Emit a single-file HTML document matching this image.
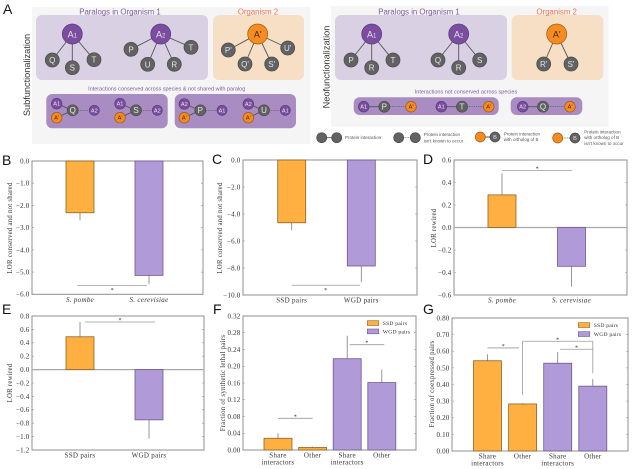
<!DOCTYPE html>
<html lang="en">
<head>
<meta charset="utf-8">
<title>Paralog interaction figure</title>
<style>
html,body{margin:0;padding:0;background:#fff;width:632px;height:469px;overflow:hidden}
svg{display:block;filter:blur(.3px)}
text{font-family:"Liberation Sans",sans-serif}
.ser{font-family:"Liberation Serif",serif}
.edge{stroke:#555;stroke-width:.9;fill:none}
.dash{stroke:#555;stroke-width:.7;stroke-dasharray:1.2 1;fill:none}
.g circle{fill:#626262;stroke:#4a4a4a;stroke-width:.7}
.p circle{fill:#7b4da1;stroke:#5c3a7d;stroke-width:.7}
.o circle{fill:#f68b1f;stroke:#9a5a16;stroke-width:.7}
.node text{text-anchor:middle;fill:#e6e6e6}
.o text{fill:#3a2a10}
.big text{font-size:9px}
.mid text{font-size:8px}
.sm text{font-size:5.6px}
.cap{font-size:5.5px;text-anchor:middle;fill:#7d5ba0}
.title1{font-size:7.8px;text-anchor:middle;fill:#7d5ba0}
.title2{font-size:7.8px;text-anchor:middle;fill:#ef7350}
.leg{font-size:4.5px;fill:#555}
.letter{font-size:14px;fill:#111}
.side{font-size:9.2px;text-anchor:middle;fill:#333}
</style>
</head>
<body>
<svg id="fig" xmlns="http://www.w3.org/2000/svg" width="632" height="469" viewBox="0 0 632 469">
<rect width="632" height="469" fill="#fff"/>

<g>
<text class="letter" x="3" y="14">A</text>
<rect x="32" y="7" width="278" height="137" fill="#f5f5f5"/>
<rect x="36" y="15" width="172" height="65" rx="6" fill="#d9d0e4"/>
<rect x="213" y="15" width="91" height="65" rx="6" fill="#f7dfc5"/>
<text class="title1" x="120" y="14.5">Paralogs in Organism 1</text>
<text class="title2" x="258" y="14.5">Organism 2</text>
<text class="side" transform="translate(30,75) rotate(-90)">Subfunctionalization</text>

<path class="edge" d="M72.3 34L52.3 60M72.3 34V67.7M72.3 34L94 59.7M160.7 34L131 49.3M160.7 34L147.7 64.3M160.7 34L174.3 64.3M160.7 34L191 47.3M257.7 34L228.3 50M257.7 34L245 64M257.7 34L271.7 64M257.7 34L287.7 48"/>
<g class="node p big"><circle cx="72.3" cy="34" r="10"/><text x="72.3" y="37.5">A<tspan font-size="6">1</tspan></text></g>
<g class="node g mid"><circle cx="52.3" cy="60" r="7"/><text x="52.3" y="63">Q</text></g>
<g class="node g mid"><circle cx="72.3" cy="67.7" r="7"/><text x="72.3" y="70.7">S</text></g>
<g class="node g mid"><circle cx="94" cy="59.7" r="7"/><text x="94" y="62.7">T</text></g>
<g class="node p big"><circle cx="160.7" cy="34" r="10"/><text x="160.7" y="37.5">A<tspan font-size="6">2</tspan></text></g>
<g class="node g mid"><circle cx="131" cy="49.3" r="7"/><text x="131" y="52.3">P</text></g>
<g class="node g mid"><circle cx="147.7" cy="64.3" r="7"/><text x="147.7" y="67.3">U</text></g>
<g class="node g mid"><circle cx="174.3" cy="64.3" r="7"/><text x="174.3" y="67.3">R</text></g>
<g class="node g mid"><circle cx="191" cy="47.3" r="7"/><text x="191" y="50.3">T</text></g>
<g class="node o big"><circle cx="257.7" cy="34" r="10"/><text x="257.7" y="37.5">A'</text></g>
<g class="node g mid"><circle cx="228.3" cy="50" r="7"/><text x="228.3" y="53">P'</text></g>
<g class="node g mid"><circle cx="245" cy="64" r="7"/><text x="245" y="67">Q'</text></g>
<g class="node g mid"><circle cx="271.7" cy="64" r="7"/><text x="271.7" y="67">S'</text></g>
<g class="node g mid"><circle cx="287.7" cy="48" r="7"/><text x="287.7" y="51">U'</text></g>

<text class="cap" x="166.7" y="90.5">Interactions conserved across species &amp; not shared with paralog</text>
<rect x="46.3" y="94" width="121.4" height="34.3" rx="6" fill="#a98dc2"/>
<rect x="174.7" y="94" width="121.3" height="34.3" rx="6" fill="#a98dc2"/>
<path class="edge" d="M56.7 103.7L72.7 110.3L56.7 117.7M120 103.7L136 110.3L120 117.7M184.3 104L200.3 110.3L184.3 117.7M248.3 104L264 110.3L248.3 117.7"/>
<path class="dash" d="M78 110.3H89M141 110.3H152M206 110.3H217M269 110.3H280"/>
<g class="node p sm"><circle cx="56.7" cy="103.7" r="5.3"/><text x="56.7" y="105.7">A1</text></g>
<g class="node o sm"><circle cx="56.7" cy="117.7" r="5.3"/><text x="56.7" y="119.7">A'</text></g>
<g class="node g mid"><circle cx="72.7" cy="110.3" r="5.5"/><text x="72.7" y="113">Q</text></g>
<g class="node p sm"><circle cx="94.3" cy="110.3" r="5"/><text x="94.3" y="112.3">A2</text></g>
<g class="node p sm"><circle cx="120" cy="103.7" r="5.3"/><text x="120" y="105.7">A1</text></g>
<g class="node o sm"><circle cx="120" cy="117.7" r="5.3"/><text x="120" y="119.7">A'</text></g>
<g class="node g mid"><circle cx="136" cy="110.3" r="5.5"/><text x="136" y="113">S</text></g>
<g class="node p sm"><circle cx="157.3" cy="110.3" r="5"/><text x="157.3" y="112.3">A2</text></g>
<g class="node p sm"><circle cx="184.3" cy="104" r="5.3"/><text x="184.3" y="106">A2</text></g>
<g class="node o sm"><circle cx="184.3" cy="117.7" r="5.3"/><text x="184.3" y="119.7">A'</text></g>
<g class="node g mid"><circle cx="200.3" cy="110.3" r="5.5"/><text x="200.3" y="113">P</text></g>
<g class="node p sm"><circle cx="222" cy="110.3" r="5"/><text x="222" y="112.3">A1</text></g>
<g class="node p sm"><circle cx="248.3" cy="104" r="5.3"/><text x="248.3" y="106">A2</text></g>
<g class="node o sm"><circle cx="248.3" cy="117.7" r="5.3"/><text x="248.3" y="119.7">A'</text></g>
<g class="node g mid"><circle cx="264" cy="110.3" r="5.5"/><text x="264" y="113">U</text></g>
<g class="node p sm"><circle cx="285.3" cy="110.3" r="5"/><text x="285.3" y="112.3">A1</text></g>
</g>

<g>
<rect x="331" y="6" width="277.7" height="120.7" fill="#f5f5f5"/>
<rect x="335" y="15" width="172" height="65" rx="6" fill="#d9d0e4"/>
<rect x="511.7" y="15" width="91.6" height="65" rx="6" fill="#f7dfc5"/>
<text class="title1" x="419" y="14.5">Paralogs in Organism 1</text>
<text class="title2" x="556.7" y="14.5">Organism 2</text>
<text class="side" transform="translate(329.5,67) rotate(-90)">Neofunctionalization</text>

<path class="edge" d="M371.7 34L351 60M371.7 34V67.7M371.7 34L393 60M458.7 34L438 60M458.7 34V67.7M458.7 34L479.7 60M556.7 34L543.7 64M556.7 34L571 64"/>
<g class="node p big"><circle cx="371.7" cy="34" r="10"/><text x="371.7" y="37.5">A<tspan font-size="6">1</tspan></text></g>
<g class="node g mid"><circle cx="351" cy="60" r="7"/><text x="351" y="63">P</text></g>
<g class="node g mid"><circle cx="371.7" cy="67.7" r="7"/><text x="371.7" y="70.7">R</text></g>
<g class="node g mid"><circle cx="393" cy="60" r="7"/><text x="393" y="63">T</text></g>
<g class="node p big"><circle cx="458.7" cy="34" r="10"/><text x="458.7" y="37.5">A<tspan font-size="6">2</tspan></text></g>
<g class="node g mid"><circle cx="438" cy="60" r="7"/><text x="438" y="63">Q</text></g>
<g class="node g mid"><circle cx="458.7" cy="67.7" r="7"/><text x="458.7" y="70.7">R</text></g>
<g class="node g mid"><circle cx="479.7" cy="60" r="7"/><text x="479.7" y="63">S</text></g>
<g class="node o big"><circle cx="556.7" cy="34" r="10"/><text x="556.7" y="37.5">A'</text></g>
<g class="node g mid"><circle cx="543.7" cy="64" r="7"/><text x="543.7" y="67">R'</text></g>
<g class="node g mid"><circle cx="571" cy="64" r="7"/><text x="571" y="67">S'</text></g>

<text class="cap" x="466" y="93.5">Interactions not conserved across species</text>
<rect x="353.7" y="97.3" width="145" height="17.7" rx="6" fill="#a98dc2"/>
<rect x="510.7" y="97.3" width="71.6" height="17.7" rx="6" fill="#a98dc2"/>
<path class="edge" d="M363.7 106.7H384.3M441.3 106.7H462M522.7 106.7H543"/>
<path class="dash" d="M390 106.7H405M467 106.7H483M548 106.7H564"/>
<g class="node p sm"><circle cx="363.7" cy="106.7" r="5.3"/><text x="363.7" y="108.7">A1</text></g>
<g class="node g mid"><circle cx="384.3" cy="106.7" r="5.5"/><text x="384.3" y="109.4">P</text></g>
<g class="node o sm"><circle cx="411" cy="106.7" r="5.3"/><text x="411" y="108.7">A'</text></g>
<g class="node p sm"><circle cx="441.3" cy="106.7" r="5.3"/><text x="441.3" y="108.7">A1</text></g>
<g class="node g mid"><circle cx="462" cy="106.7" r="5.5"/><text x="462" y="109.4">T</text></g>
<g class="node o sm"><circle cx="488.7" cy="106.7" r="5.3"/><text x="488.7" y="108.7">A'</text></g>
<g class="node p sm"><circle cx="522.7" cy="106.7" r="5.3"/><text x="522.7" y="108.7">A2</text></g>
<g class="node g mid"><circle cx="543" cy="106.7" r="5.5"/><text x="543" y="109.4">Q</text></g>
<g class="node o sm"><circle cx="570" cy="106.7" r="5.3"/><text x="570" y="108.7">A'</text></g>
</g>

<g>
<path class="edge" d="M321.7 137.7H336.7M480.3 137H495"/>
<path class="dash" d="M398.7 137.7H415.3M557.7 138H575"/>
<g class="node g"><circle cx="321.7" cy="137.7" r="5"/></g>
<g class="node g"><circle cx="336.7" cy="137.7" r="5"/></g>
<text class="leg" x="345" y="139">Protein interaction</text>
<g class="node g"><circle cx="398.7" cy="137.7" r="5"/></g>
<g class="node g"><circle cx="415.3" cy="137.7" r="5"/></g>
<text class="leg"><tspan x="423.7" y="136">Protein interaction</tspan><tspan x="423.7" y="142.5">isn't known to occur</tspan></text>
<g class="node o"><circle cx="480.3" cy="137" r="5"/></g>
<g class="node g sm"><circle cx="495" cy="137" r="5"/><text x="495" y="139">B</text></g>
<text class="leg"><tspan x="503.7" y="135.5">Protein interaction</tspan><tspan x="503.7" y="141">with ortholog of B</tspan></text>
<g class="node o"><circle cx="557.7" cy="138" r="5"/></g>
<g class="node g sm"><circle cx="575" cy="138" r="5"/><text x="575" y="140">B</text></g>
<text class="leg"><tspan x="584.3" y="133.5">Protein interaction</tspan><tspan x="584.3" y="139">with ortholog of B</tspan><tspan x="584.3" y="145">isn't known to occur</tspan></text>
</g>

<g id="charts"></g>
</svg>

<script>
// Panel B
const bCategories = ['S. pombe', 'S. cerevisiae'];
const bValues = [-2.33, -5.15];
const bErrors = [0.35, 0.4];
const bTicks = [-6, -5, -4, -3, -2, -1, 0];
const bKinds = ['ssd', 'wgd'];
const bSigFrom = [-0.04];
const bSigTo = [0.97];
const bSigLevels = [-5.61];
// Panel C
const cCategories = ['SSD pairs', 'WGD pairs'];
const cValues = [-4.65, -7.85];
const cErrors = [0.55, 1.2];
const cTicks = [-10, -8, -6, -4, -2, 0];
const cKinds = ['ssd', 'wgd'];
const cSigFrom = [0];
const cSigTo = [0.98];
const cSigLevels = [-9.28];
// Panel D
const dCategories = ['S. pombe', 'S. cerevisiae'];
const dValues = [0.29, -0.345];
const dErrors = [0.19, 0.18];
const dTicks = [-0.6, -0.4, -0.2, 0, 0.2, 0.4, 0.6];
const dKinds = ['ssd', 'wgd'];
const dSigFrom = [0];
const dSigTo = [1.01];
const dSigLevels = [0.508];
// Panel E
const eCategories = ['SSD pairs', 'WGD pairs'];
const eValues = [0.49, -0.75];
const eErrors = [0.22, 0.28];
const eTicks = [-1.2, -1, -0.8, -0.6, -0.4, -0.2, 0, 0.2, 0.4, 0.6, 0.8];
const eKinds = ['ssd', 'wgd'];
const eSigFrom = [0.07];
const eSigTo = [1.09];
const eSigLevels = [0.71];
// Panel F
const fCategories = ['Share\ninteractors', 'Other', 'Share\ninteractors', 'Other'];
const fValues = [0.028, 0.006, 0.218, 0.161];
const fErrors = [0.012, 0.002, 0.055, 0.031];
const fTicks = [0, 0.04, 0.08, 0.12, 0.16, 0.2, 0.24, 0.28, 0.32];
const fKinds = ['ssd', 'ssd', 'wgd', 'wgd'];
const fSigFrom = [0, 2.07];
const fSigTo = [1, 3.07];
const fSigLevels = [0.0757, 0.2515];
// Panel G
const gCategories = ['Share\ninteractors', 'Other', 'Share\ninteractors', 'Other'];
const gValues = [0.543, 0.283, 0.528, 0.39];
const gErrors = [0.039, 0.005, 0.067, 0.043];
const gTicks = [0, 0.1, 0.2, 0.3, 0.4, 0.5, 0.6, 0.7, 0.8];
const gKinds = ['ssd', 'ssd', 'wgd', 'wgd'];
const gSigFrom = [0, 2.07];
const gSigTo = [0.9, 3];
const gSigLevels = [0.62, 0.612];
const gBracketLevels = [0.337, 0.66, 0.467];
const legendLabels = ['SSD pairs', 'WGD pairs'];

const NS = 'http://www.w3.org/2000/svg';
const root = document.getElementById('charts');
const FILL = {ssd: '#ffb040', wgd: '#b09ad8'};
const EDGE = {ssd: '#8c6428', wgd: '#6b5a8c'};
const AXIS = '#8f8f8f';

function mk(parent, tag, attrs, txt) {
  const el = document.createElementNS(NS, tag);
  for (const k in attrs) el.setAttribute(k, attrs[k]);
  if (txt !== undefined) el.textContent = txt;
  parent.appendChild(el);
  return el;
}

function drawChart(o) {
  const g = mk(root, 'g', {});
  
  
  const min = o.ticks[0], max = o.ticks[o.ticks.length - 1];
  const xScale = i => o.first + i * o.step;
  const yScale = v => o.b - (v - min) / (max - min) * (o.b - o.t);

  const letter = mk(g, 'text', {x: o.lx, y: o.ly, 'font-size': 14, fill: '#111'}, o.id.toUpperCase());
  
  

  const frame = mk(g, 'rect', {x: o.l, y: o.t, width: o.r - o.l, height: o.b - o.t, fill: '#fff', stroke: AXIS, 'stroke-width': 1});
  
  

  o.ticks.forEach(function (v) {
    const y = yScale(v);
    const tick = mk(g, 'path', {d: 'M' + o.l + ' ' + y + 'h2M' + o.r + ' ' + y + 'h-2', stroke: AXIS, 'stroke-width': .6});
    
    
    const s = v.toFixed(o.dec).replace('-', '\u2212');
    const lab = mk(g, 'text', {x: o.l - 2.5, y: y + 2.4, 'font-size': 7, 'text-anchor': 'end', fill: '#333', 'class': 'ser', 'letter-spacing': .2}, s);
    
    
  });

  const yTitle = mk(g, 'text', {transform: 'translate(' + o.tx + ',' + o.ty + ') rotate(-90)', 'font-size': 6.8, 'text-anchor': 'middle', fill: '#333', 'class': 'ser', 'letter-spacing': .25}, o.title);
  
  

  if (min < 0 && max > 0) {
    const zero = mk(g, 'line', {x1: o.l, x2: o.r, y1: yScale(0), y2: yScale(0), stroke: '#a8a8a8', 'stroke-width': 1.2});
    
    
  }

  o.values.forEach(function (v, i) {
    const cx = xScale(i);
    const tip = v + (v < 0 ? -o.errors[i] : o.errors[i]);
    const err = mk(g, 'line', {x1: cx, x2: cx, y1: yScale(v), y2: yScale(tip), stroke: '#7d7d7d', 'stroke-width': .8});
    
    
    const y0 = yScale(0), y1 = yScale(v);
    const bar = mk(g, 'rect', {x: cx - 14, y: Math.min(y0, y1), width: 28, height: Math.abs(y1 - y0), fill: FILL[o.kinds[i]], stroke: EDGE[o.kinds[i]], 'stroke-width': .8});
    
    
    const lines = o.categories[i].split('\n');
    lines.forEach(function (t, k) {
      const attrs = {x: cx, y: o.b + 7.5 + k * 7, 'font-size': 7, 'text-anchor': 'middle', fill: '#333', 'class': 'ser', 'letter-spacing': .3};
      if (o.italic) attrs['font-style'] = 'italic';
      const lab = mk(g, 'text', attrs, t);
      
      
    });
  });

  o.sigLevels.forEach(function (v, i) {
    const x1 = xScale(o.sigFrom[i]), x2 = xScale(o.sigTo[i]), y = yScale(v);
    const line = mk(g, 'line', {x1: x1, x2: x2, y1: y, y2: y, stroke: '#9a9a9a', 'stroke-width': .8});
    
    
    const dy = o.starBelow ? 6.5 : 0;
    const star = mk(g, 'text', {x: (x1 + x2) / 2, y: y + dy, 'font-size': 6, 'text-anchor': 'middle', fill: '#333', 'class': 'ser'}, '*');
    
    
  });

  if (o.bracket) {
    const xa = xScale(1), xb = xScale(3);
    const path = mk(g, 'path', {d: 'M' + xa + ' ' + yScale(o.bracket[0]) + 'V' + yScale(o.bracket[1]) + 'H' + xb + 'V' + yScale(o.bracket[2]), fill: 'none', stroke: '#9a9a9a', 'stroke-width': .8});
    
    
    const star = mk(g, 'text', {x: (xa + xb) / 2, y: yScale(o.bracket[1]), 'font-size': 6, 'text-anchor': 'middle', fill: '#333', 'class': 'ser'}, '*');
    
    
  }

  if (o.legend) {
    ['ssd', 'wgd'].forEach(function (k, i) {
      const y = o.legend.y + i * o.legend.dy;
      const sw = mk(g, 'rect', {x: o.legend.x, y: y, width: 11.5, height: 4.8, fill: FILL[k], stroke: EDGE[k], 'stroke-width': .6});
      
      
      const t = mk(g, 'text', {x: o.legend.x + 15.5, y: y + 4.3, 'font-size': 5.6, fill: '#333', 'class': 'ser', 'letter-spacing': .2}, legendLabels[i]);
      
      
    });
  }
}

drawChart({id: 'b', l: 32, r: 203, t: 161, b: 294.3, first: 80, step: 69, dec: 1, italic: true, starBelow: true, lx: 2, ly: 165, tx: 12, ty: 228, title: 'LOR conserved and not shared', categories: bCategories, values: bValues, errors: bErrors, ticks: bTicks, kinds: bKinds, sigFrom: bSigFrom, sigTo: bSigTo, sigLevels: bSigLevels});
drawChart({id: 'c', l: 243, r: 417, t: 160, b: 295, first: 291.7, step: 69.6, dec: 1, starBelow: true, lx: 212, ly: 164, tx: 222, ty: 228, title: 'LOR conserved and not shared', categories: cCategories, values: cValues, errors: cErrors, ticks: cTicks, kinds: cKinds, sigFrom: cSigFrom, sigTo: cSigTo, sigLevels: cSigLevels});
drawChart({id: 'd', l: 454, r: 627, t: 160, b: 295, first: 502, step: 69.5, dec: 1, italic: true, lx: 423, ly: 164, tx: 436, ty: 228, title: 'LOR rewired', categories: dCategories, values: dValues, errors: dErrors, ticks: dTicks, kinds: dKinds, sigFrom: dSigFrom, sigTo: dSigTo, sigLevels: dSigLevels});
drawChart({id: 'e', l: 32, r: 204, t: 316, b: 450, first: 80, step: 69, dec: 1, lx: 2, ly: 314, tx: 12, ty: 383, title: 'LOR rewired', categories: eCategories, values: eValues, errors: eErrors, ticks: eTicks, kinds: eKinds, sigFrom: eSigFrom, sigTo: eSigTo, sigLevels: eSigLevels});
drawChart({id: 'f', l: 243, r: 416, t: 316, b: 450, first: 278, step: 34.6, dec: 2, lx: 213, ly: 314, tx: 225, ty: 383, title: 'Fraction of synthetic lethal pairs', categories: fCategories, values: fValues, errors: fErrors, ticks: fTicks, kinds: fKinds, sigFrom: fSigFrom, sigTo: fSigTo, sigLevels: fSigLevels, legend: {x: 367.3, y: 320.7, dy: 8.3}});
drawChart({id: 'g', l: 452, r: 628, t: 318, b: 451, first: 487.5, step: 35.1, dec: 2, lx: 423, ly: 314, tx: 434, ty: 384, title: 'Fraction of coexpressed pairs', categories: gCategories, values: gValues, errors: gErrors, ticks: gTicks, kinds: gKinds, sigFrom: gSigFrom, sigTo: gSigTo, sigLevels: gSigLevels, bracket: gBracketLevels, legend: {x: 578.3, y: 322.7, dy: 9}});
</script>
</body>
</html>
